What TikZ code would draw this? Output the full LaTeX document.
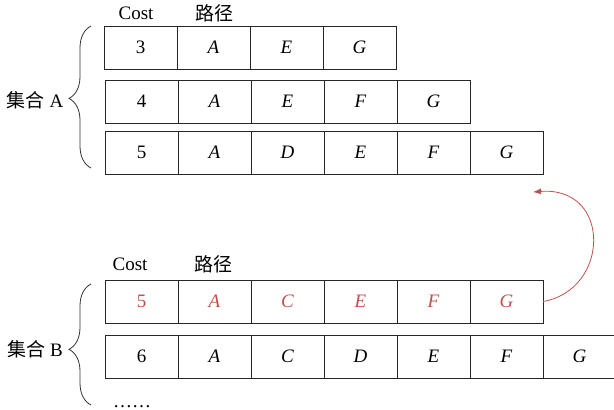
\documentclass[tikz,border=0pt]{standalone}
\usepackage{fontspec}
\setmainfont{Liberation Serif}
\newfontfamily\cjk{Noto Sans CJK SC}
\usetikzlibrary{arrows.meta,decorations.pathreplacing}
\definecolor{hl}{RGB}{192,80,77}
\newcommand\cellrow[5]{%
  \foreach \t [count=\i from 0] in {#4} {
    \node[cell,text=#5] (#1\i) at ({#2+73*\i},#3) {\ifnum\i=0 \t\else\textit{\t}\fi};
  }}
\tikzset{
  cell/.style={draw=black!85, line width=0.9pt, minimum width=73pt, minimum height=43pt,
    inner sep=0pt, outer sep=0pt, anchor=north west, font=\fontsize{19}{22}\selectfont},
  lbl/.style={font=\fontsize{19}{22}\selectfont, inner sep=0pt},
  brc/.style={draw=black!80, line width=0.8pt, decorate},
  link/.style={draw=hl, line width=0.8pt, -{Latex[length=8pt,width=6pt]}}
}
\begin{document}
\begin{tikzpicture}[x=1pt,y=-1pt]
\useasboundingbox (0,0) rectangle (614,410);
\clip (0,0) rectangle (614,410);
% headers
\node[lbl] (costA) at (136,13) {Cost};
\node[lbl] (pathA) at (214,13) {\cjk 路径};
\node[lbl] (costB) at (130,264) {Cost};
\node[lbl] (pathB) at (213,264) {\cjk 路径};
% rows of set A
\cellrow{a}{104}{26}{3,A,E,G}{black}
\cellrow{b}{105}{80}{4,A,E,F,G}{black}
\cellrow{c}{105}{131}{5,A,D,E,F,G}{black}
% rows of set B
\cellrow{d}{105}{280}{5,A,C,E,F,G}{hl}
\cellrow{e}{105}{335}{6,A,C,D,E,F,G}{black}
% braces
\draw[brc, decoration={brace, amplitude=22pt, aspect=0.49}] (91,168) -- (91,26);
\draw[brc, decoration={brace, amplitude=22pt, aspect=0.46}] (91,405) -- (91,284);
\node[lbl] (setA) at (35,100) {{\cjk 集合} A};
\node[lbl] (setB) at (35,349) {{\cjk 集合} B};
\node[lbl, anchor=base] (dots) at (132,407) {……};
% arrow
\coordinate (tgt) at (533,192);
\draw[link] (d5.east) .. controls (610,290) and (612,186) .. (tgt);
\end{tikzpicture}
\end{document}
